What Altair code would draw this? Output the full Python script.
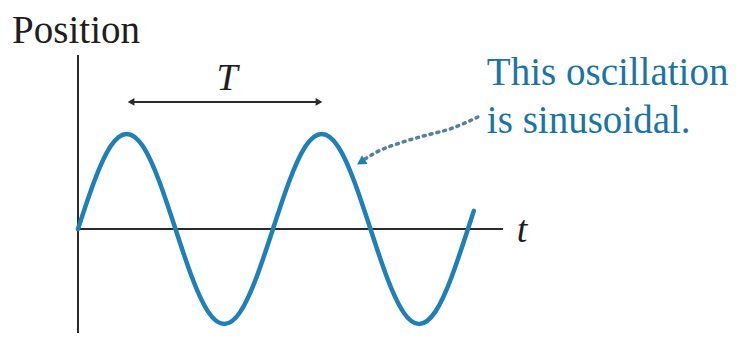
import altair as alt
import pandas as pd

# Sinusoid (time in periods, position in amplitudes)
time = [0, 0.083, 0.167, 0.25, 0.333, 0.417, 0.5, 0.583, 0.667, 0.75, 0.833, 0.917,
        1.0, 1.083, 1.167, 1.25, 1.333, 1.417, 1.5, 1.583, 1.667, 1.75, 1.833, 1.917,
        2.0, 2.03]
position = [0, 0.5, 0.87, 1.0, 0.87, 0.5, 0, -0.5, -0.87, -1.0, -0.87, -0.5,
            0, 0.5, 0.87, 1.0, 0.87, 0.5, 0, -0.5, -0.87, -1.0, -0.87, -0.5,
            0, 0.19]

# Axes lines (data units)
v_axis_t = [0, 0]
v_axis_s = [-1.2, 1.83]
h_axis_t = [0, 2.18]
h_axis_s = [0, 0]

# Period arrow
period_t = [0.272, 1.236]
period_s = [1.337, 1.337]

# Dotted pointer arrow
pointer_t = [2.051, 1.908, 1.790, 1.667, 1.533, 1.472]
pointer_s = [1.179, 1.053, 0.989, 0.916, 0.811, 0.737]
pointer_head = (1.451, 0.705)

X_DOMAIN = [-0.359, 3.385]
Y_DOMAIN = [-1.095, 2.326]

SERIF = "Liberation Serif, Times New Roman, Times, serif"

xs = alt.Scale(domain=X_DOMAIN, nice=False, zero=False)
ys = alt.Scale(domain=Y_DOMAIN, nice=False, zero=False)


def X(f="t"):
    return alt.X(f"{f}:Q", scale=xs, axis=None)


def Y(f="s"):
    return alt.Y(f"{f}:Q", scale=ys, axis=None)


curve_df = pd.DataFrame({"t": time, "s": position, "o": range(len(time))})
vax = pd.DataFrame({"t": v_axis_t, "s": v_axis_s})
hax = pd.DataFrame({"t": h_axis_t, "s": h_axis_s})
per = pd.DataFrame({"t": period_t, "s": period_s})
ptr = pd.DataFrame({"t": pointer_t, "s": pointer_s, "o": range(len(pointer_t))})

axis_col = "#2b2b2b"
blue = "#1f80b8"
text_blue = "#1a74a4"

vline = alt.Chart(vax).mark_line(color=axis_col, strokeWidth=2).encode(x=X(), y=Y())
hline = alt.Chart(hax).mark_line(color=axis_col, strokeWidth=2).encode(x=X(), y=Y())

curve = alt.Chart(curve_df).mark_line(
    color=blue, strokeWidth=4.5, interpolate="natural", strokeCap="round"
).encode(x=X(), y=Y(), order="o:Q")

per_line = alt.Chart(per).mark_line(color=axis_col, strokeWidth=2).encode(x=X(), y=Y())
per_heads = alt.Chart(pd.DataFrame({
    "t": period_t, "s": period_s, "shape": ["triangle-left", "triangle-right"]
})).mark_point(filled=True, color=axis_col, size=60, opacity=1).encode(
    x=X(), y=Y(), shape=alt.Shape("shape:N", scale=None, legend=None)
)

ptr_line = alt.Chart(ptr).mark_line(
    color="#56809c", strokeWidth=3.5, strokeDash=[2, 5], strokeCap="round",
    interpolate="monotone"
).encode(x=X(), y=Y(), order="o:Q")
ptr_head = alt.Chart(pd.DataFrame({"t": [pointer_head[0]], "s": [pointer_head[1]]})).mark_point(
    shape="triangle-up", filled=True, color=blue, size=110, angle=238, opacity=1
).encode(x=X(), y=Y())

labels = pd.DataFrame({
    "t": [-0.338, 0.764, 2.277],
    "s": [1.958, 1.463, -0.137],
    "txt": ["Position", "T", "t"],
})
pos_label = alt.Chart(labels.iloc[[0]]).mark_text(
    font=SERIF, fontSize=39, color="#1e1e1e", align="left", baseline="alphabetic"
).encode(x=X(), y=Y(), text="txt:N")
it_labels = alt.Chart(labels.iloc[1:]).mark_text(
    font=SERIF, fontSize=38, fontStyle="italic", color="#1e1e1e",
    align="center", baseline="alphabetic"
).encode(x=X(), y=Y(), text="txt:N")

note = pd.DataFrame({
    "t": [2.097, 2.097],
    "s": [1.516, 1.011],
    "txt": ["This oscillation", "is sinusoidal."],
})
note_text = alt.Chart(note).mark_text(
    font=SERIF, fontSize=39, color=text_blue, align="left", baseline="alphabetic"
).encode(x=X(), y=Y(), text="txt:N")

chart = alt.layer(
    vline, hline, curve, per_line, per_heads, ptr_line, ptr_head,
    pos_label, it_labels, note_text
).properties(
    width=730, height=325, autosize=alt.AutoSizeParams(type="none"), padding=0,
    background="white"
).configure_view(stroke=None)

chart.save("out.html", embed_options={"renderer": "svg", "actions": False})
